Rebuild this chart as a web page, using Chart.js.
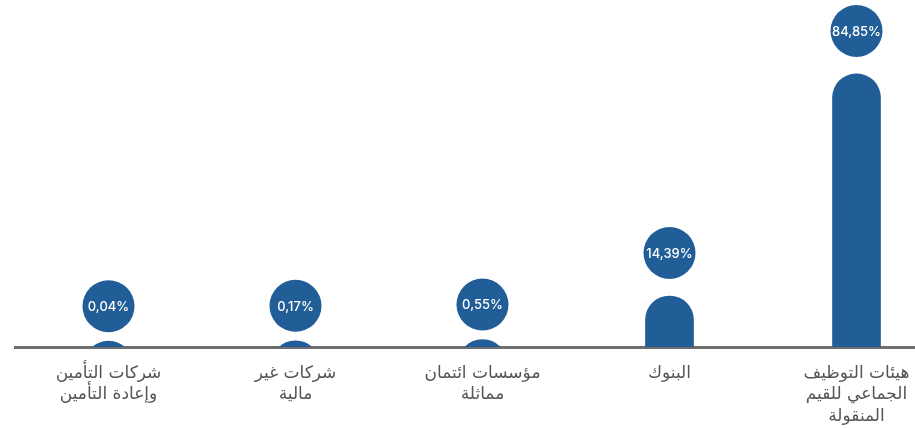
<!DOCTYPE html>
<html>
<head>
<meta charset="utf-8">
<script src="https://cdn.jsdelivr.net/npm/chart.js"></script>
<style>
  html, body { margin: 0; padding: 0; background: #fff; overflow: hidden; }
  #wrap { position: relative; width: 950px; height: 428px; }
</style>
</head>
<body>
<div id="wrap"><canvas id="chart"></canvas></div>
<script>
const categories = [
  ['شركات التأمين', 'وإعادة التأمين'],
  ['شركات غير', 'مالية'],
  ['مؤسسات ائتمان', 'مماثلة'],
  ['البنوك'],
  ['هيئات التوظيف', 'الجماعي للقيم', 'المنقولة']
];
const shares = [0.04, 0.17, 0.55, 14.39, 84.85];
const valueLabels = ['0,04%', '0,17%', '0,55%', '14,39%', '84,85%'];

const BAR_COLOR = '#215d97';

const bubbleLabels = {
  id: 'bubbleLabels',
  afterDatasetsDraw(chart) {
    const { ctx } = chart;
    const meta = chart.getDatasetMeta(0);
    ctx.save();
    meta.data.forEach((bar, i) => {
      const h = chart.scales.y.getPixelForValue(0) - bar.y;
      const cy = bar.y - (h < 20 ? 35 : 43);
      ctx.beginPath();
      ctx.arc(bar.x, cy, 26, 0, Math.PI * 2);
      ctx.fillStyle = BAR_COLOR;
      ctx.fill();
      ctx.fillStyle = '#fff';
      ctx.font = '500 13px Inter, sans-serif';
      ctx.textAlign = 'center';
      ctx.textBaseline = 'middle';
      ctx.fillText(valueLabels[i], bar.x, cy + 1);
    });
    ctx.restore();
  }
};

new Chart(document.getElementById('chart'), {
  type: 'bar',
  data: {
    labels: categories,
    datasets: [{
      data: shares,
      base: -30,
      backgroundColor: BAR_COLOR,
      borderRadius: 24,
      borderSkipped: 'start',
      barThickness: 48,
      clip: 0
    }]
  },
  options: {
    responsive: true,
    maintainAspectRatio: false,
    animation: false,
    layout: { padding: { left: 15, right: 0, top: 0, bottom: 0 } },
    plugins: { legend: { display: false }, tooltip: { enabled: false } },
    scales: {
      x: {
        z: 1,
        grid: { display: false, drawTicks: false },
        border: { display: true, color: '#6e6e6e', width: 3 },
        ticks: {
          color: '#555',
          padding: 16,
          font: { family: '"DejaVu Sans", sans-serif', size: 17, lineHeight: 1.25 }
        },
        afterFit(scale) { scale.height = 81; }
      },
      y: {
        display: false,
        min: -1.8,
        max: 108.3
      }
    }
  },
  plugins: [bubbleLabels]
});
</script>
</body>
</html>
